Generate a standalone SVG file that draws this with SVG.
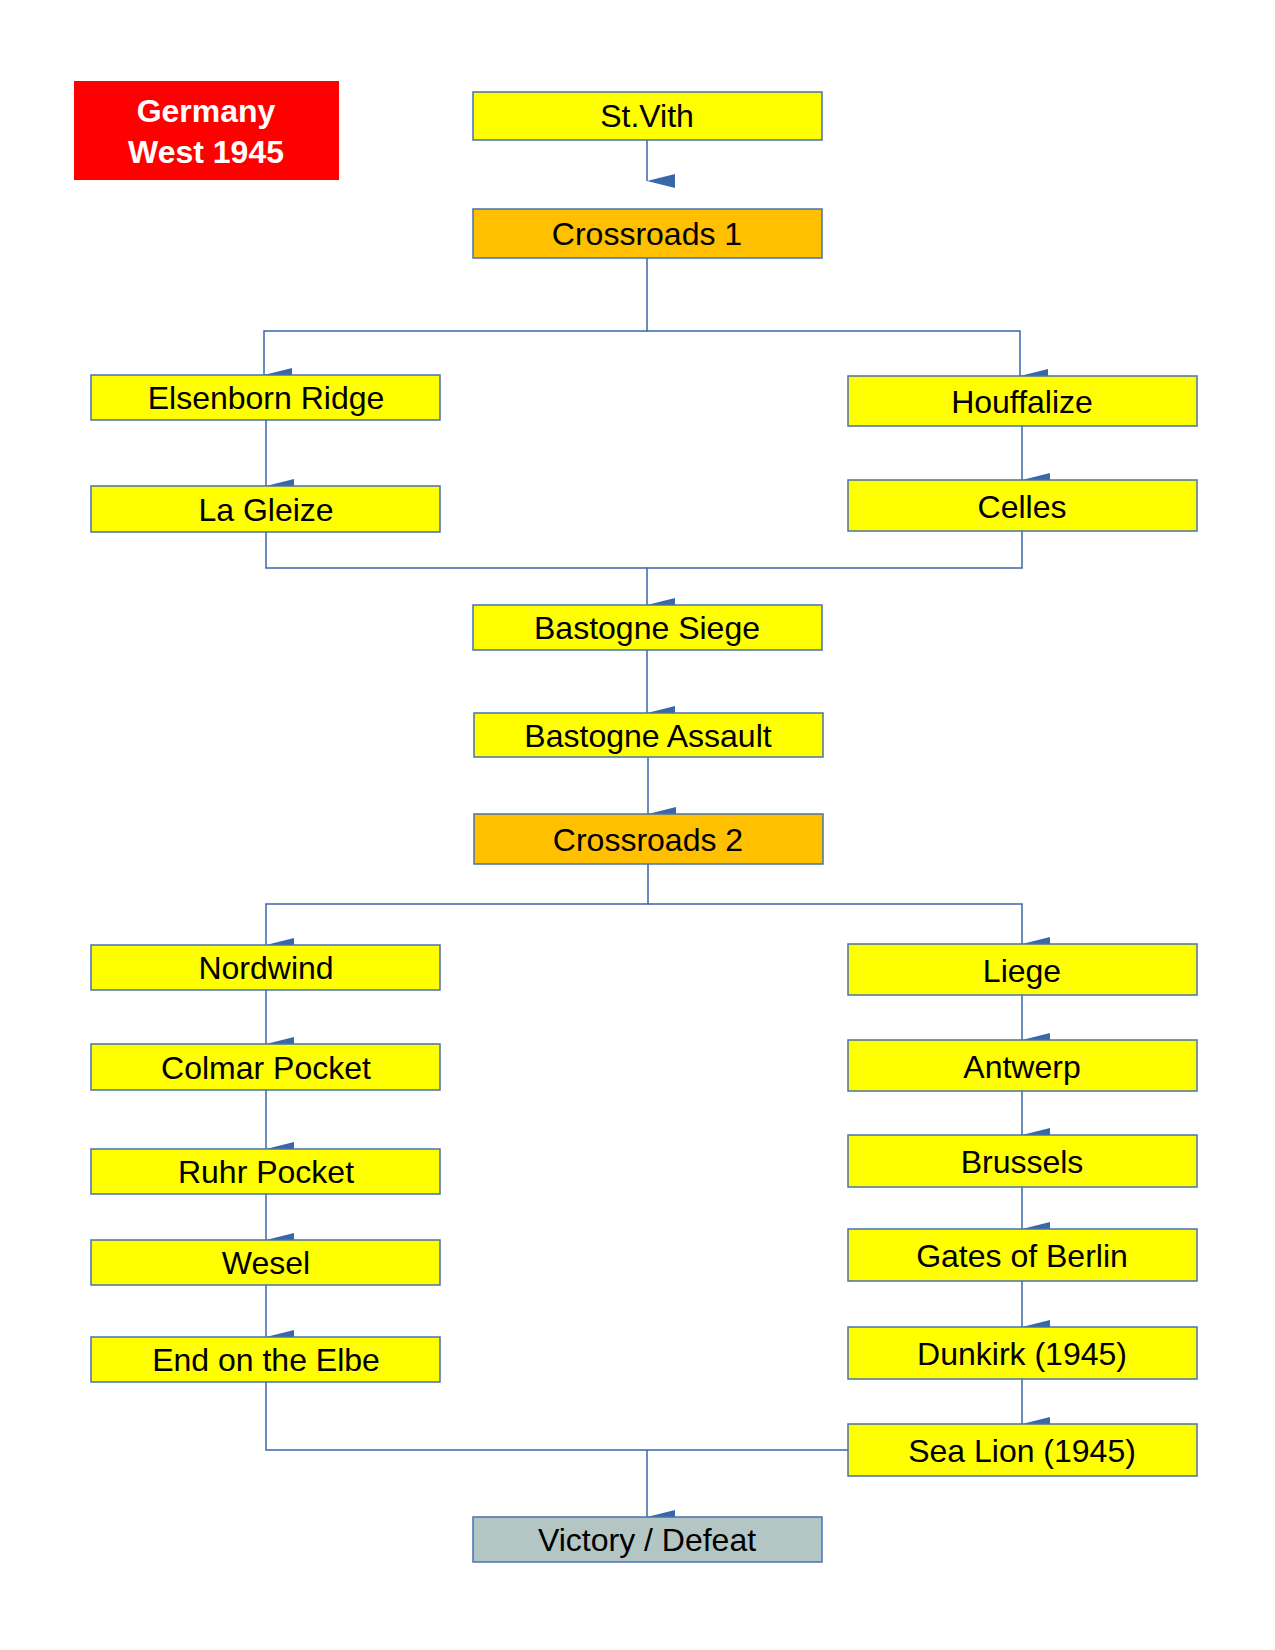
<svg xmlns="http://www.w3.org/2000/svg" width="1275" height="1650" viewBox="0 0 1275 1650">
<style>
.b rect{stroke:#4a72b0;stroke-width:1.5}
.y{fill:#ffff00}.o{fill:#ffc000}.g{fill:#b3c6c4}
text{font-family:"Liberation Sans",Arial,sans-serif;font-size:32px;text-anchor:middle;dominant-baseline:central;fill:#000}
.c{fill:none;stroke:#3a67a8;stroke-width:1.5}
</style>
<defs><marker id="a" viewBox="0 0 14 28" refX="7" refY="28" markerWidth="14" markerHeight="28" markerUnits="userSpaceOnUse" orient="auto-start-reverse"><path d="M0,0 L14,0 L7,28 Z" fill="#3a67a8"/></marker></defs>
<g id="title"><rect x="74" y="81" width="265" height="99" fill="#ff0000"/><text x="206" y="111" font-weight="bold" font-size="36" fill="#fff" style="fill:#fff">Germany</text><text x="206" y="152" font-weight="bold" font-size="36" style="fill:#fff">West 1945</text></g>
<g id="connectors" class="c">
<path d="M647,140 V181" marker-end="url(#a)" transform="translate(0,0)"/>
<path d="M647,258 V331 H264 V375" marker-end="url(#a)"/>
<path d="M647,331 H1020 V376" marker-end="url(#a)"/>
<path d="M266,420 V486" marker-end="url(#a)"/>
<path d="M1022,426 V480" marker-end="url(#a)"/>
<path d="M266,532 V568 H647 V605" marker-end="url(#a)"/>
<path d="M1022,531 V568 H647"/>
<path d="M647,650 V713" marker-end="url(#a)"/>
<path d="M648,757 V814" marker-end="url(#a)"/>
<path d="M648,864 V904 H266 V945" marker-end="url(#a)"/>
<path d="M648,904 H1022 V944" marker-end="url(#a)"/>
<path d="M266,990 V1044" marker-end="url(#a)"/>
<path d="M266,1090 V1149" marker-end="url(#a)"/>
<path d="M266,1194 V1240" marker-end="url(#a)"/>
<path d="M266,1285 V1337" marker-end="url(#a)"/>
<path d="M1022,995 V1040" marker-end="url(#a)"/>
<path d="M1022,1091 V1135" marker-end="url(#a)"/>
<path d="M1022,1187 V1229" marker-end="url(#a)"/>
<path d="M1022,1281 V1327" marker-end="url(#a)"/>
<path d="M1022,1379 V1424" marker-end="url(#a)"/>
<path d="M266,1382 V1450 H848"/>
<path d="M647,1450 V1517" marker-end="url(#a)"/>
</g>
<g id="stvith" class="b"><rect class="y" x="473" y="92" width="349" height="48"/><text x="647" y="116">St.Vith</text></g>
<g id="crossroads1" class="b"><rect class="o" x="473" y="209" width="349" height="49"/><text x="647" y="234">Crossroads 1</text></g>
<g id="elsenborn" class="b"><rect class="y" x="91" y="375" width="349" height="45"/><text x="266" y="398">Elsenborn Ridge</text></g>
<g id="houffalize" class="b"><rect class="y" x="848" y="376" width="349" height="50"/><text x="1022" y="402">Houffalize</text></g>
<g id="lagleize" class="b"><rect class="y" x="91" y="486" width="349" height="46"/><text x="266" y="510">La Gleize</text></g>
<g id="celles" class="b"><rect class="y" x="848" y="480" width="349" height="51"/><text x="1022" y="507">Celles</text></g>
<g id="bsiege" class="b"><rect class="y" x="473" y="605" width="349" height="45"/><text x="647" y="628">Bastogne Siege</text></g>
<g id="bassault" class="b"><rect class="y" x="474" y="713" width="349" height="44"/><text x="648" y="736">Bastogne Assault</text></g>
<g id="crossroads2" class="b"><rect class="o" x="474" y="814" width="349" height="50"/><text x="648" y="840">Crossroads 2</text></g>
<g id="nordwind" class="b"><rect class="y" x="91" y="945" width="349" height="45"/><text x="266" y="968">Nordwind</text></g>
<g id="colmar" class="b"><rect class="y" x="91" y="1044" width="349" height="46"/><text x="266" y="1068">Colmar Pocket</text></g>
<g id="ruhr" class="b"><rect class="y" x="91" y="1149" width="349" height="45"/><text x="266" y="1172">Ruhr Pocket</text></g>
<g id="wesel" class="b"><rect class="y" x="91" y="1240" width="349" height="45"/><text x="266" y="1263">Wesel</text></g>
<g id="elbe" class="b"><rect class="y" x="91" y="1337" width="349" height="45"/><text x="266" y="1360">End on the Elbe</text></g>
<g id="liege" class="b"><rect class="y" x="848" y="944" width="349" height="51"/><text x="1022" y="971">Liege</text></g>
<g id="antwerp" class="b"><rect class="y" x="848" y="1040" width="349" height="51"/><text x="1022" y="1067">Antwerp</text></g>
<g id="brussels" class="b"><rect class="y" x="848" y="1135" width="349" height="52"/><text x="1022" y="1162">Brussels</text></g>
<g id="berlin" class="b"><rect class="y" x="848" y="1229" width="349" height="52"/><text x="1022" y="1256">Gates of Berlin</text></g>
<g id="dunkirk" class="b"><rect class="y" x="848" y="1327" width="349" height="52"/><text x="1022" y="1354">Dunkirk (1945)</text></g>
<g id="sealion" class="b"><rect class="y" x="848" y="1424" width="349" height="52"/><text x="1022" y="1451">Sea Lion (1945)</text></g>
<g id="victory" class="b"><rect class="g" x="473" y="1517" width="349" height="45"/><text x="647" y="1540">Victory / Defeat</text></g>
</svg>
